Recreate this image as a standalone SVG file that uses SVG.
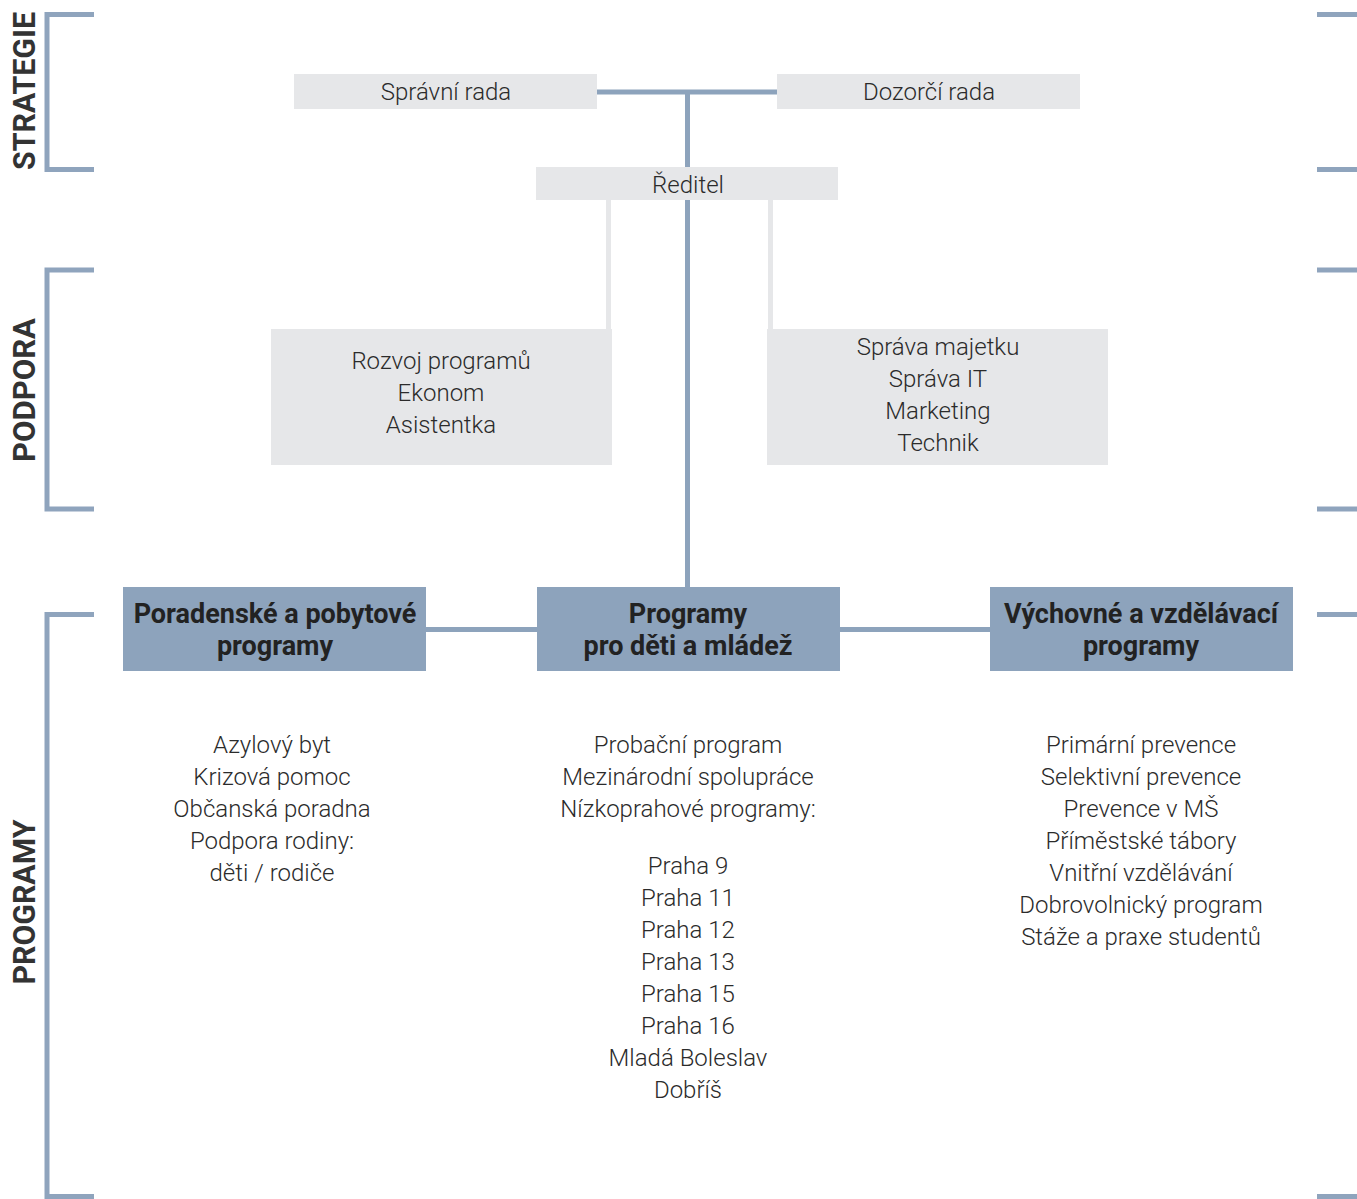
<svg xmlns="http://www.w3.org/2000/svg" width="1357" height="1199" viewBox="0 0 1357 1199">
<style>
.lt{font-family:Roboto,"Liberation Sans",sans-serif;font-weight:300;font-size:24px;fill:#2b2b2b;text-anchor:middle}
.bd{font-family:Roboto,"Liberation Sans",sans-serif;font-weight:700;font-size:27px;fill:#222;text-anchor:middle}
.side{font-family:Roboto,"Liberation Sans",sans-serif;font-weight:700;font-size:32px;fill:#333;text-anchor:middle}
.gray{fill:#e6e7e9}
.blue{fill:#8da3bc}
.br{fill:none;stroke:#8fa4bd;stroke-width:5}
.con{stroke:#8da3bc;stroke-width:5;fill:none}
.gcon{stroke:#e6e7e9;stroke-width:5;fill:none}
</style>
<g id="brackets">
<path class="br" d="M94,14.5 H47 V169.5 H94"/>
<path class="br" d="M94,270 H47 V509 H94"/>
<path class="br" d="M94,614.5 H47 V1196.5 H94"/>
<path class="br" d="M1317,14.5 H1357 M1317,169.5 H1357 M1317,270 H1357 M1317,509 H1357 M1317,614.5 H1357 M1317,1196.5 H1357"/>
</g>
<g id="labels">
<text class="side" transform="translate(35,91) rotate(-90)" textLength="158" lengthAdjust="spacingAndGlyphs">STRATEGIE</text>
<text class="side" transform="translate(35,390) rotate(-90)" textLength="144" lengthAdjust="spacingAndGlyphs">PODPORA</text>
<text class="side" transform="translate(35,902) rotate(-90)" textLength="165" lengthAdjust="spacingAndGlyphs">PROGRAMY</text>
</g>
<g id="connectors">
<path class="con" d="M597,92 H777"/>
<path class="con" d="M687.5,92 V587"/>
<path class="gcon" d="M608.5,200 V329"/>
<path class="gcon" d="M770.5,200 V329"/>
<path class="con" d="M426,629.5 H537"/>
<path class="con" d="M840,629.5 H990"/>
</g>
<g id="spravni-rada"><rect class="gray" x="294" y="74" width="303" height="35"/><text class="lt" x="446" y="100">Správní rada</text></g>
<g id="dozorci-rada"><rect class="gray" x="777" y="74" width="303" height="35"/><text class="lt" x="929" y="100">Dozorčí rada</text></g>
<g id="reditel"><rect class="gray" x="536" y="167" width="302" height="33"/><text class="lt" x="688" y="193">Ředitel</text></g>
<g id="podpora-left"><rect class="gray" x="271" y="329" width="341" height="136"/>
<text class="lt" x="441" y="369">Rozvoj programů</text>
<text class="lt" x="441" y="401">Ekonom</text>
<text class="lt" x="441" y="433">Asistentka</text></g>
<g id="podpora-right"><rect class="gray" x="767" y="329" width="341" height="136"/>
<text class="lt" x="938" y="355">Správa majetku</text>
<text class="lt" x="938" y="387">Správa IT</text>
<text class="lt" x="938" y="419">Marketing</text>
<text class="lt" x="938" y="451">Technik</text></g>
<g id="poradenske"><rect class="blue" x="123" y="587" width="303" height="84"/>
<text class="bd" x="275" y="623">Poradenské a pobytové</text>
<text class="bd" x="275" y="655">programy</text></g>
<g id="programy-deti"><rect class="blue" x="537" y="587" width="303" height="84"/>
<text class="bd" x="688" y="623">Programy</text>
<text class="bd" x="688" y="655">pro děti a mládež</text></g>
<g id="vychovne"><rect class="blue" x="990" y="587" width="303" height="84"/>
<text class="bd" x="1141" y="623">Výchovné a vzdělávací</text>
<text class="bd" x="1141" y="655">programy</text></g>
<g id="list-left">
<text class="lt" x="272" y="753">Azylový byt</text>
<text class="lt" x="272" y="785">Krizová pomoc</text>
<text class="lt" x="272" y="817">Občanská poradna</text>
<text class="lt" x="272" y="849">Podpora rodiny:</text>
<text class="lt" x="272" y="881">děti / rodiče</text>
</g>
<g id="list-middle">
<text class="lt" x="688" y="753">Probační program</text>
<text class="lt" x="688" y="785">Mezinárodní spolupráce</text>
<text class="lt" x="688" y="817">Nízkoprahové programy:</text>
<text class="lt" x="688" y="874">Praha 9</text>
<text class="lt" x="688" y="906">Praha 11</text>
<text class="lt" x="688" y="938">Praha 12</text>
<text class="lt" x="688" y="970">Praha 13</text>
<text class="lt" x="688" y="1002">Praha 15</text>
<text class="lt" x="688" y="1034">Praha 16</text>
<text class="lt" x="688" y="1066">Mladá Boleslav</text>
<text class="lt" x="688" y="1098">Dobříš</text>
</g>
<g id="list-right">
<text class="lt" x="1141" y="753">Primární prevence</text>
<text class="lt" x="1141" y="785">Selektivní prevence</text>
<text class="lt" x="1141" y="817">Prevence v MŠ</text>
<text class="lt" x="1141" y="849">Příměstské tábory</text>
<text class="lt" x="1141" y="881">Vnitřní vzdělávání</text>
<text class="lt" x="1141" y="913">Dobrovolnický program</text>
<text class="lt" x="1141" y="945">Stáže a praxe studentů</text>
</g>
</svg>
